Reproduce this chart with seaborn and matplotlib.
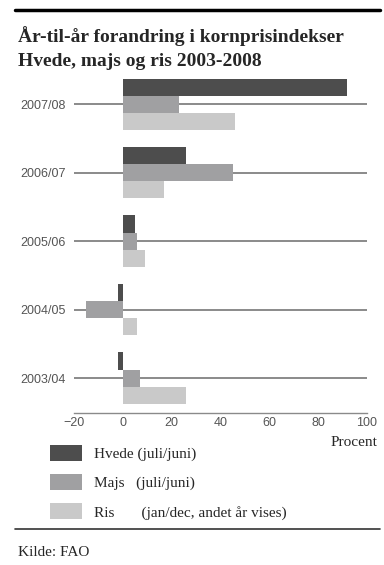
import matplotlib
matplotlib.use("Agg")
import matplotlib.pyplot as plt
from matplotlib.lines import Line2D
import numpy as np
import pandas as pd
import seaborn as sns

# ---- data ----
years = ["2007/08", "2006/07", "2005/06", "2004/05", "2003/04"]
hvede = [92, 26, 5, -2, -2]
majs = [23, 45, 6, -15, 7]
ris = [46, 17, 9, 6, 26]
series = ["Hvede", "Majs", "Ris"]
legend_labels = ["Hvede (juli/juni)", "Majs   (juli/juni)",
                 "Ris       (jan/dec, andet år vises)"]
colors = ["#4d4d4d", "#a0a0a2", "#c9c9c9"]
xticks = [-20, 0, 20, 40, 60, 80, 100]
title_lines = ["År-til-år forandring i kornprisindekser",
               "Hvede, majs og ris 2003-2008"]

df = pd.DataFrame({
    "year": years * 3,
    "value": hvede + majs + ris,
    "series": [s for s in series for _ in years],
})

sns.set_theme(style="white")
plt.rcParams["font.family"] = ["Liberation Sans", "DejaVu Sans"]

W, H = 384, 565
fig = plt.figure(figsize=(W / 100, H / 100), dpi=100)
fig.patch.set_facecolor("white")

ax = fig.add_axes([74 / W, 1 - 413 / H, (367 - 74) / W, (413 - 70) / H])
sns.barplot(data=df, x="value", y="year", hue="series", order=years,
            hue_order=series, palette=colors, width=0.75, saturation=1,
            linewidth=0, ax=ax, zorder=3)
handles, _ = ax.get_legend_handles_labels()
ax.get_legend().remove()

for yv in range(len(years)):
    ax.axhline(yv, color="#6b6b6b", lw=1.1, zorder=1)

ax.set_xlim(-20, 100)
ax.set_ylim(len(years) - 0.49, -0.5)
ax.set_xticks(xticks)
ax.set_xlabel("")
ax.set_ylabel("")
for s in ["top", "right", "left"]:
    ax.spines[s].set_visible(False)
ax.spines["bottom"].set_color("#8a8a8a")
ax.spines["bottom"].set_linewidth(1.0)
ax.tick_params(axis="both", length=0, labelsize=9, colors="#555555")
ax.tick_params(axis="x", pad=3)
ax.tick_params(axis="y", pad=6)
ax.set_facecolor("white")

serif = ["Liberation Serif", "DejaVu Serif"]
fig.text(18 / W, 1 - 41.5 / H, title_lines[0], fontsize=14, fontweight="bold",
         family=serif, va="baseline", ha="left")
fig.text(18 / W, 1 - 65.5 / H, title_lines[1], fontsize=14, fontweight="bold",
         family=serif, va="baseline", ha="left")

fig.add_artist(Line2D([15 / W, 380 / W], [1 - 10 / H] * 2, color="black", lw=2.5))
fig.add_artist(Line2D([15 / W, 380 / W], [1 - 529 / H] * 2, color="#333333", lw=1.2))

fig.text(377 / W, 1 - 446.5 / H, "Procent", fontsize=11, family=serif,
         ha="right", va="baseline")
fig.text(18 / W, 1 - 556 / H, "Kilde: FAO", fontsize=11, family=serif,
         ha="left", va="baseline")

fs_px = 11 * 100 / 72
fig.legend(handles, legend_labels, loc="upper left",
           bbox_to_anchor=(50 / W, 1 - 444.5 / H), frameon=False,
           borderpad=0, borderaxespad=0,
           handlelength=32 / fs_px, handleheight=19 / fs_px,
           handletextpad=12 / fs_px, labelspacing=13 / fs_px,
           prop={"family": serif, "size": 11})

fig.savefig("out.png", dpi=100)
